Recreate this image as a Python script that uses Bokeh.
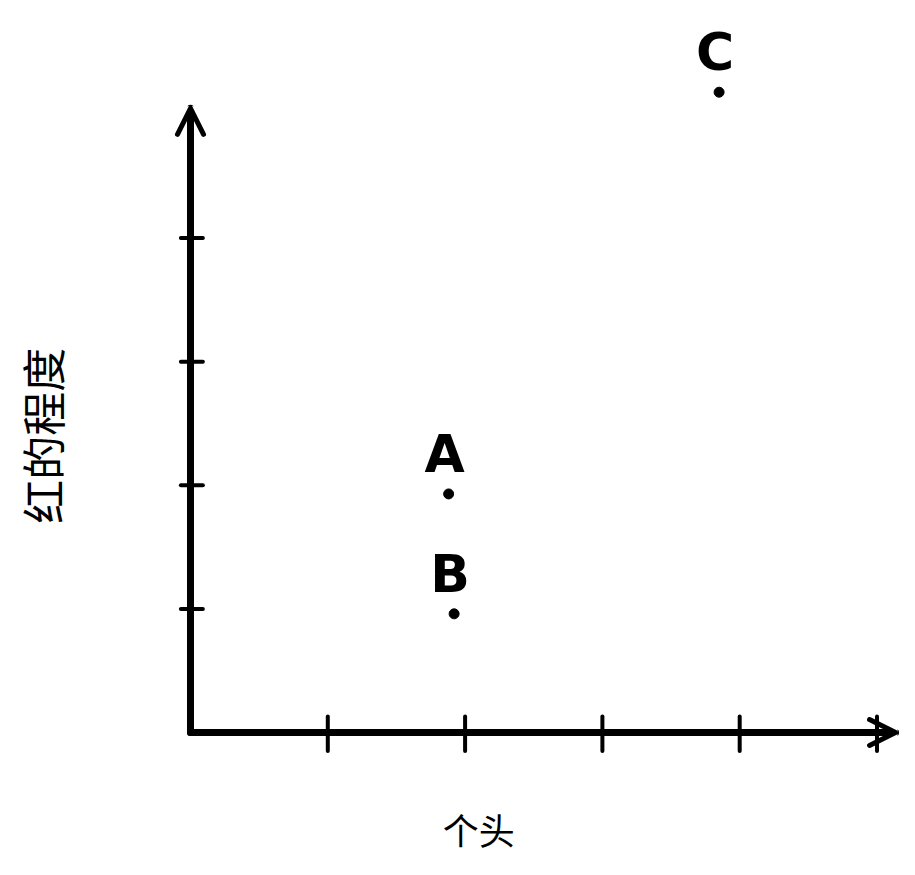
import math
from bokeh.plotting import figure
from bokeh.models import ColumnDataSource, Arrow, OpenHead, Label, Range1d
from bokeh.core.properties import value
from bokeh.embed import file_html
from bokeh.resources import INLINE

# ---- data ----
point_names = ["A", "B", "C"]
size_values = [1.88, 1.92, 3.85]        # 个头
redness_values = [1.93, 0.96, 5.18]     # 红的程度
x_ticks = [1, 2, 3, 4, 5]
y_ticks = [1, 2, 3, 4]
x_title = "个头"
y_title = "红的程度"
x_axis_end = 5.135
y_axis_end = 5.05

W, H = 899, 859
p = figure(width=W, height=H, output_backend="svg", toolbar_location=None,
           x_range=Range1d(-1.3838, 5.1639), y_range=Range1d(-1.0275, 5.922),
           x_axis_type=None, y_axis_type=None, min_border=0,
           outline_line_color=None, background_fill_color="white",
           border_fill_color="white")
p.grid.visible = False

# hand-drawn style axes as arrows
p.add_layout(Arrow(end=OpenHead(size=26, line_width=5, line_cap="round", line_join="round"),
                   x_start=0, y_start=0, x_end=0, y_end=y_axis_end,
                   line_width=7, line_cap="round", line_color="black"))
p.add_layout(Arrow(end=OpenHead(size=26, line_width=5, line_cap="round", line_join="round"),
                   x_start=0, y_start=0, x_end=x_axis_end, y_end=0,
                   line_width=7, line_cap="round", line_color="black"))

# tick marks
p.segment(x0=-0.07, y0=y_ticks, x1=0.09, y1=y_ticks, line_width=4,
          line_color="black", line_cap="round")
p.segment(x0=x_ticks, y0=-0.15, x1=x_ticks, y1=0.13, line_width=4,
          line_color="black", line_cap="round")

# points
src = ColumnDataSource(dict(x=size_values, y=redness_values, name=point_names))
p.scatter("x", "y", size=10, color="black", source=src)
p.text("x", "y", text="name", source=src, text_align="center",
       text_baseline="alphabetic", x_offset=-4, y_offset=-40,
       text_font=value("DejaVu Sans"), text_font_size="52px",
       text_font_style="bold", text_color="black")

# axis titles
p.add_layout(Label(x=2.10, y=-0.78, text=x_title, text_align="center",
                   text_baseline="middle", text_font="Noto Sans CJK SC",
                   text_font_size="36px", text_color="black"))
p.add_layout(Label(x=-1.078, y=2.40, text=y_title, angle=math.pi / 2,
                   text_align="center", text_baseline="middle",
                   text_font="Noto Sans CJK SC", text_font_size="44px",
                   text_color="black"))

open("out.html", "w").write(file_html(p, INLINE))
